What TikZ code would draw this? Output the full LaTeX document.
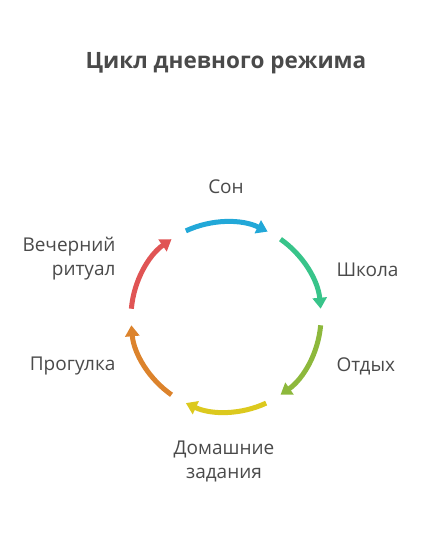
\documentclass[tikz,border=0pt]{standalone}
\usepackage{fontspec}
\setmainfont{Open Sans}
\usetikzlibrary{arrows.meta}
\definecolor{txtgray}{HTML}{4A4A4A}
\definecolor{cson}{HTML}{22A8D8}
\definecolor{cschool}{HTML}{38C48A}
\definecolor{crest}{HTML}{8DB83C}
\definecolor{chome}{HTML}{DCC91E}
\definecolor{cwalk}{HTML}{DC832C}
\definecolor{critual}{HTML}{E05454}
\begin{document}
\begin{tikzpicture}[x=1pt,y=1pt]
\tikzstyle{every node}=[text=txtgray,font=\fontsize{19}{24}\selectfont]
\tikzstyle{arc}=[line width=5pt,-{Triangle[length=11pt,width=14pt]}]
\useasboundingbox (0,0) rectangle (426,534);
\node[font=\bfseries\fontsize{22.5}{26}\selectfont](title) at (226,471) {Цикл дневного режима};
\coordinate (c) at (226,217);
% arcs of the cycle
\draw[arc,cson] (c) ++(115:95) arc[start angle=115,end angle=64,radius=95];
\draw[arc,cschool] (c) ++(55:95) arc[start angle=55,end angle=5,radius=95];
\draw[arc,crest] (c) ++(-5:95) arc[start angle=-5,end angle=-55,radius=95];
\draw[arc,chome] (c) ++(-65:95) arc[start angle=-65,end angle=-115,radius=95];
\draw[arc,cwalk] (c) ++(-125:95) arc[start angle=-125,end angle=-175,radius=95];
\draw[arc,critual] (c) ++(175:95) arc[start angle=175,end angle=125,radius=95];
% labels
\node(son) at (226,347) {Сон};
\node[anchor=west](school) at (333,264) {Школа};
\node[anchor=west](rest) at (333,168) {Отдых};
\node[align=center](home) at (224,73) {Домашние\\задания};
\node[anchor=east](walk) at (119,168) {Прогулка};
\node[anchor=east,align=right](ritual) at (119,275) {Вечерний\\ритуал};
\end{tikzpicture}
\end{document}
